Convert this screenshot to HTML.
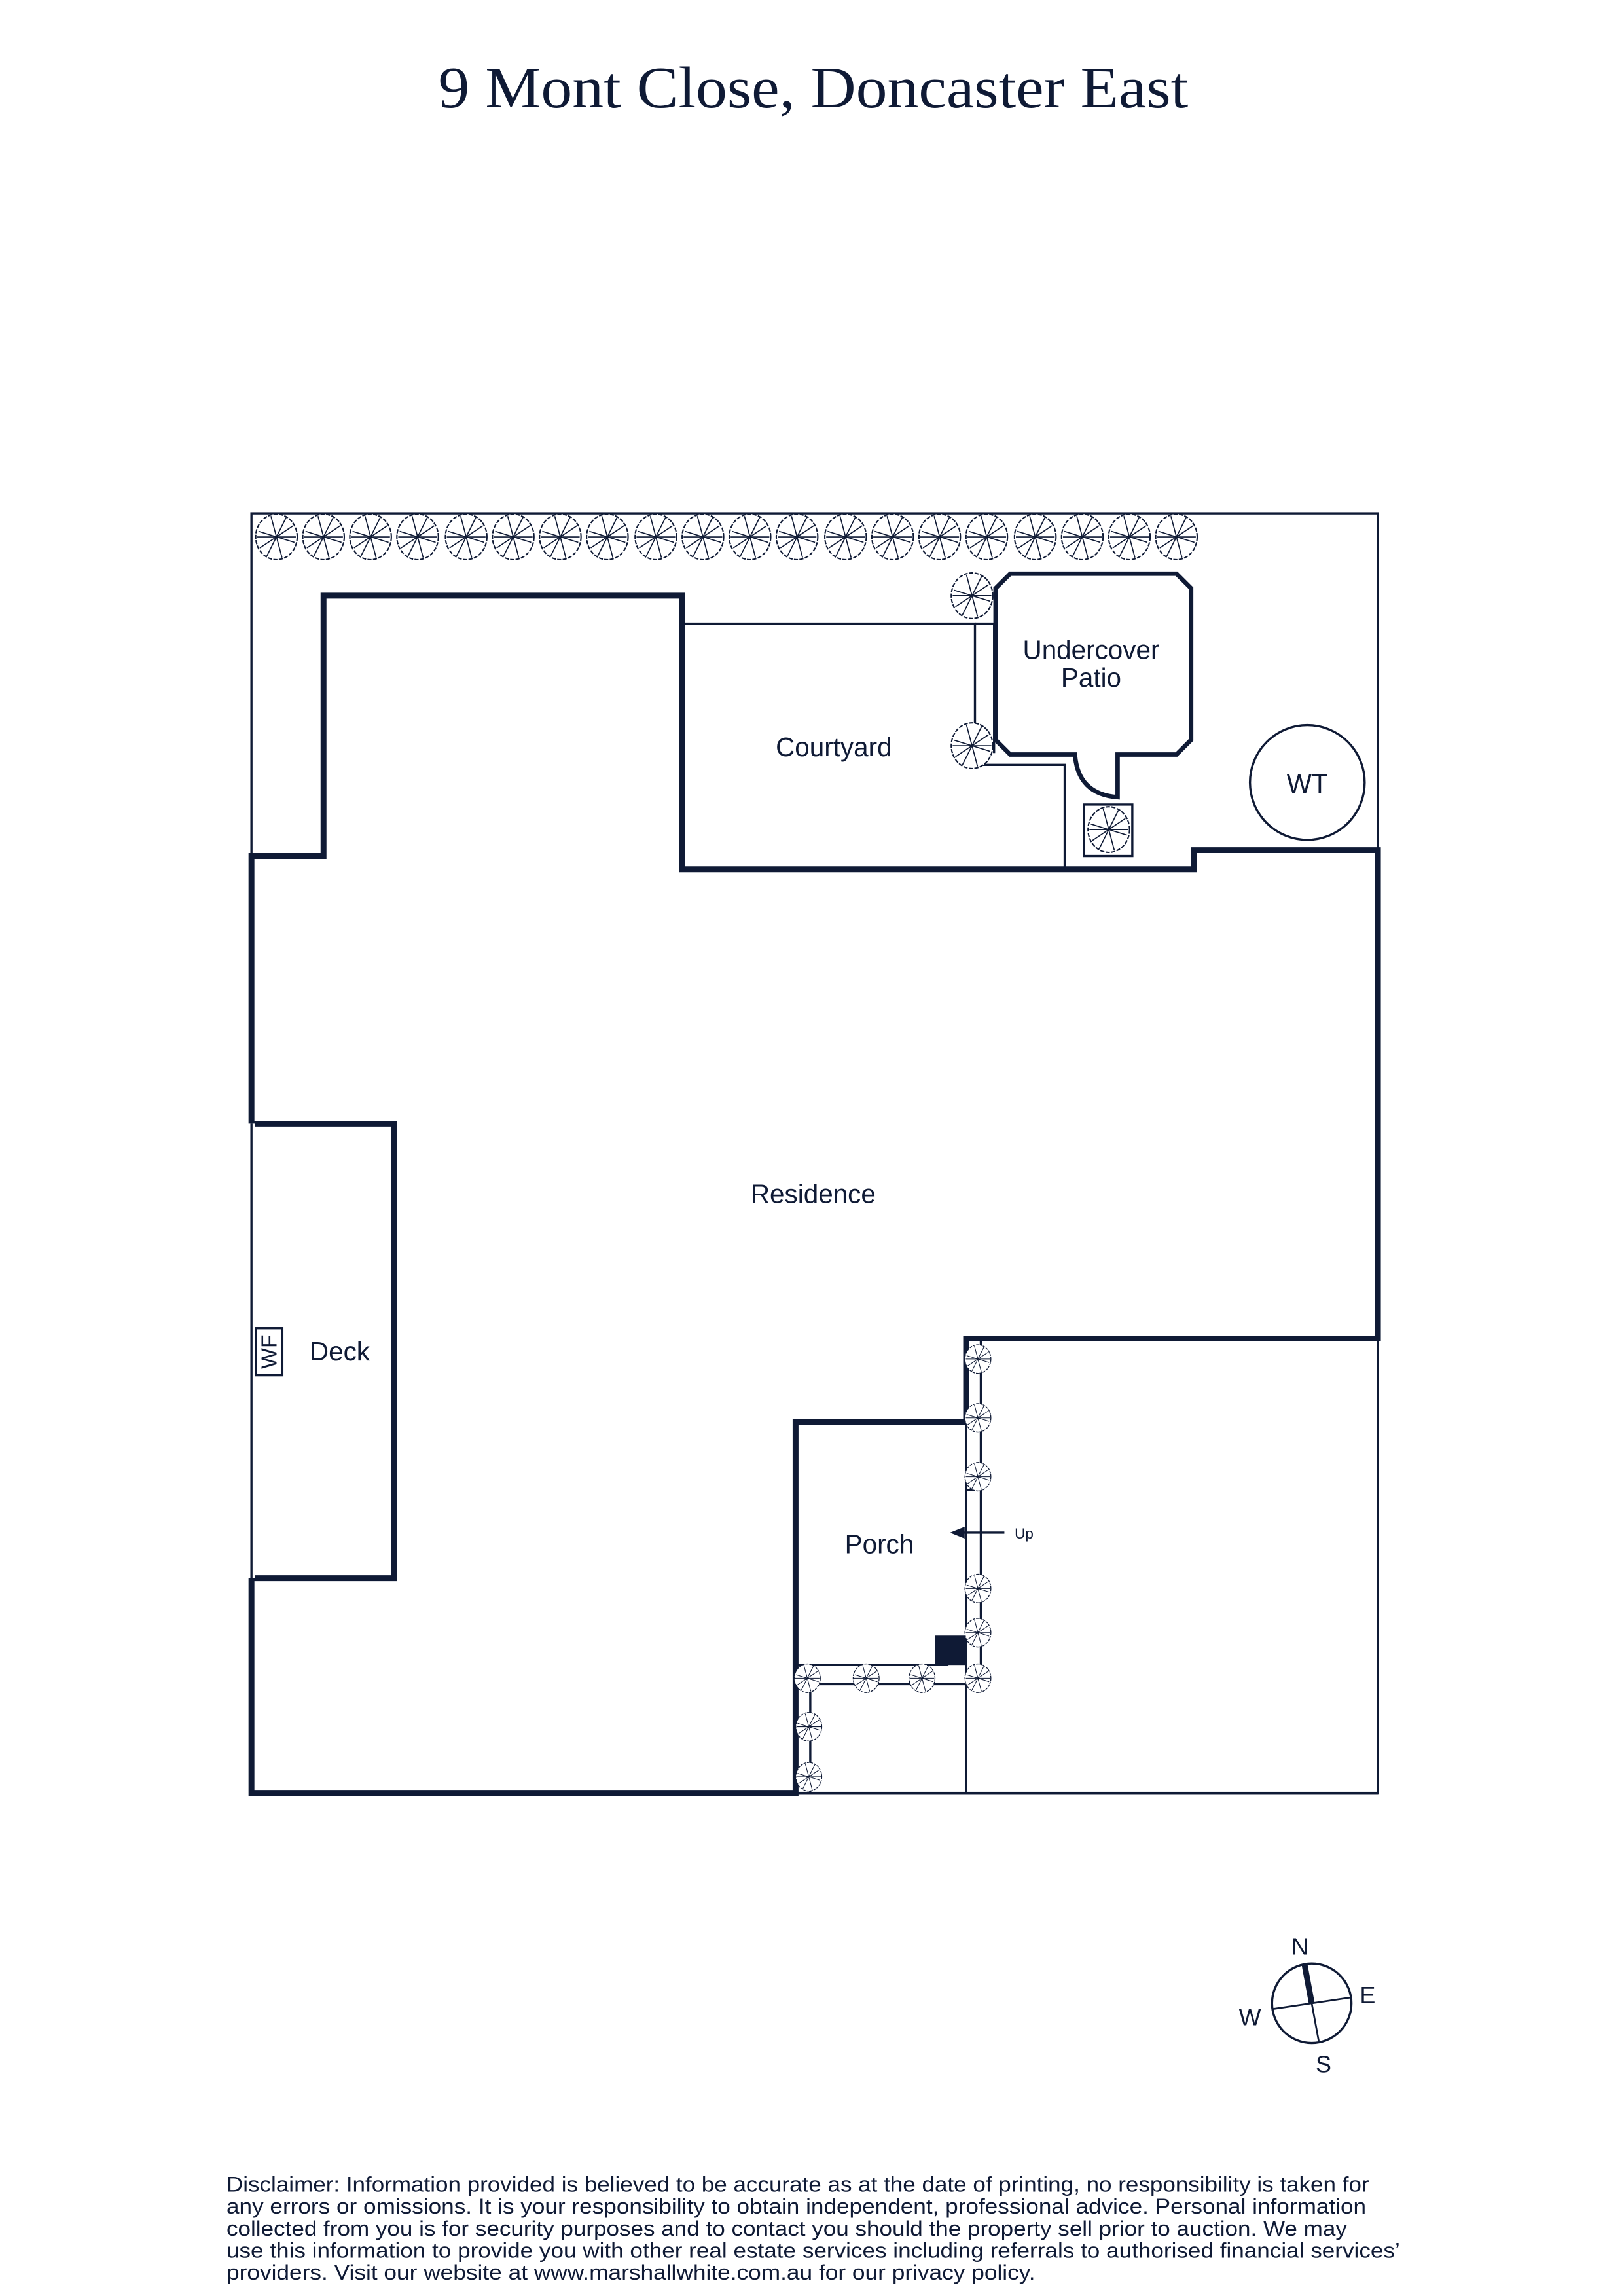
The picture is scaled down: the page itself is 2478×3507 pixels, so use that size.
<!DOCTYPE html>
<html><head><meta charset="utf-8"><style>html,body{margin:0;padding:0;background:#fff}svg{display:block}</style></head>
<body>
<svg width="2478" height="3507" viewBox="0 0 1103 1561" xmlns="http://www.w3.org/2000/svg">
<defs>
<symbol id="t" viewBox="-17 -17 34 34" overflow="visible">
<ellipse cx="0" cy="0" rx="15" ry="16.5" fill="#fff" stroke="#0f1a35" stroke-width="1" stroke-dasharray="3 1"/>
<g stroke="#0f1a35" stroke-width="0.8">
<line x1="-13" y1="-4" x2="13" y2="4"/><line x1="-4" y1="-15" x2="4" y2="15"/><line x1="-12" y1="8" x2="12" y2="-8"/><line x1="7" y1="-14" x2="-7" y2="14"/><line x1="-14" y1="0" x2="14" y2="0"/>
</g>
</symbol>
</defs>
<g font-family="Liberation Sans, sans-serif" fill="#0f1a35">
<text x="298" y="73" font-family="Liberation Serif, serif" font-size="40" textLength="510" lengthAdjust="spacingAndGlyphs">9 Mont Close, Doncaster East</text>
</g>
<g fill="none" stroke="#0f1a35">
<rect x="171" y="349" width="766" height="870" stroke-width="1.5"/>
<path d="M171 582H220V405H464V591H812V578H937V910H657V967H541V1219H171Z" stroke-width="4" fill="#fff"/>
<path d="M171 764H268V1073H171" stroke-width="4"/>
<line x1="171" y1="764" x2="171" y2="1073" stroke="#fff" stroke-width="5"/>
<line x1="171" y1="764" x2="171" y2="1073" stroke-width="1.5"/>
<g stroke-width="1.5">
<path d="M464 424H663V520H724V591"/>
<line x1="676" y1="424" x2="676" y2="512"/>
<line x1="663" y1="424" x2="676" y2="424"/>
<path d="M541 1132H645M541 1145H667M551 1145V1219M657 967V1219M667 910V1145M657 1013H667M541 1219H937"/>
<rect x="737" y="547" width="33" height="35"/>
<circle cx="889" cy="532" r="39"/>
<rect x="174" y="903" width="18" height="32"/>
<line x1="683" y1="1042" x2="652" y2="1042"/>
</g>
<path d="M687 390H800L810 400V503L800 513H760V542Q733 540 731 513H687L677 503V400Z" stroke-width="3" fill="#fff"/>
</g>
<path d="M646 1042L656 1038V1046Z" fill="#0f1a35"/>
<rect x="636" y="1112" width="21" height="20" fill="#0f1a35"/>
<g>
<use href="#t" x="172" y="349" width="32" height="32"/><use href="#t" x="204" y="349" width="32" height="32"/><use href="#t" x="236" y="349" width="32" height="32"/><use href="#t" x="268" y="349" width="32" height="32"/><use href="#t" x="301" y="349" width="32" height="32"/><use href="#t" x="333" y="349" width="32" height="32"/><use href="#t" x="365" y="349" width="32" height="32"/><use href="#t" x="397" y="349" width="32" height="32"/><use href="#t" x="430" y="349" width="32" height="32"/><use href="#t" x="462" y="349" width="32" height="32"/><use href="#t" x="494" y="349" width="32" height="32"/><use href="#t" x="526" y="349" width="32" height="32"/><use href="#t" x="559" y="349" width="32" height="32"/><use href="#t" x="591" y="349" width="32" height="32"/><use href="#t" x="623" y="349" width="32" height="32"/><use href="#t" x="655" y="349" width="32" height="32"/><use href="#t" x="688" y="349" width="32" height="32"/><use href="#t" x="720" y="349" width="32" height="32"/><use href="#t" x="752" y="349" width="32" height="32"/><use href="#t" x="784" y="349" width="32" height="32"/>
<use href="#t" x="645" y="389" width="32" height="32"/><use href="#t" x="645" y="491" width="32" height="32"/>
<use href="#t" x="738" y="548" width="32" height="32"/>
<use href="#t" x="655" y="914" width="20" height="20"/><use href="#t" x="655" y="954" width="20" height="20"/><use href="#t" x="655" y="994" width="20" height="20"/><use href="#t" x="655" y="1070" width="20" height="20"/><use href="#t" x="655" y="1100" width="20" height="20"/><use href="#t" x="655" y="1131" width="20" height="20"/>
<use href="#t" x="539" y="1131" width="20" height="20"/><use href="#t" x="579" y="1131" width="20" height="20"/><use href="#t" x="617" y="1131" width="20" height="20"/>
<use href="#t" x="540" y="1164" width="20" height="20"/><use href="#t" x="540" y="1198" width="20" height="20"/>
</g>
<g font-family="Liberation Sans, sans-serif" fill="#0f1a35" font-size="18" text-anchor="middle">
<text x="567" y="514">Courtyard</text>
<text x="742" y="448">Undercover</text>
<text x="742" y="467">Patio</text>
<text x="889" y="539">WT</text>
<text x="553" y="818">Residence</text>
<text x="231" y="925">Deck</text>
<text x="598" y="1056">Porch</text>
<text x="0" y="0" font-size="15" transform="translate(188 919) rotate(-90)">WF</text>
<text x="690" y="1046" font-size="10" text-anchor="start">Up</text>
<text x="884" y="1329" font-size="16">N</text>
<text x="930" y="1362" font-size="16">E</text>
<text x="900" y="1409" font-size="16">S</text>
<text x="850" y="1377" font-size="16">W</text>
</g>
<g stroke="#0f1a35" fill="none">
<circle cx="892" cy="1362" r="27" stroke-width="1.5"/>
<line x1="887" y1="1335" x2="897" y2="1389" stroke-width="1.2"/>
<line x1="887" y1="1335" x2="892" y2="1362" stroke-width="4"/>
<line x1="865" y1="1366" x2="919" y2="1358" stroke-width="1.2"/>
</g>
<g font-family="Liberation Sans, sans-serif" fill="#0f1a35" font-size="14.5" lengthAdjust="spacingAndGlyphs">
<text x="154" y="1490" textLength="777" lengthAdjust="spacingAndGlyphs">Disclaimer: Information provided is believed to be accurate as at the date of printing, no responsibility is taken for</text>
<text x="154" y="1505" textLength="775" lengthAdjust="spacingAndGlyphs">any errors or omissions. It is your responsibility to obtain independent, professional advice. Personal information</text>
<text x="154" y="1520" textLength="762" lengthAdjust="spacingAndGlyphs">collected from you is for security purposes and to contact you should the property sell prior to auction. We may</text>
<text x="154" y="1535" textLength="798" lengthAdjust="spacingAndGlyphs">use this information to provide you with other real estate services including referrals to authorised financial services’</text>
<text x="154" y="1550" textLength="550" lengthAdjust="spacingAndGlyphs">providers. Visit our website at www.marshallwhite.com.au for our privacy policy.</text>
</g>
</svg>
</body></html>
